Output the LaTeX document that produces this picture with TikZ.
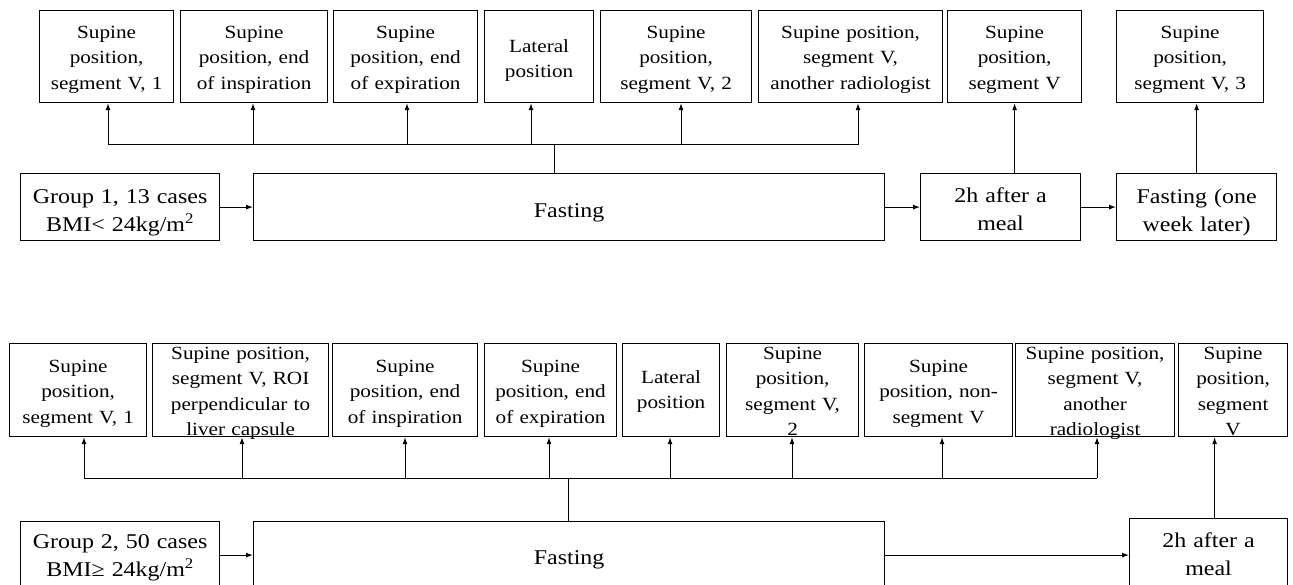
\documentclass[tikz,border=0pt]{standalone}
\usepackage{fontspec}
\setmainfont{Liberation Serif}[FakeStretch=1.14]
\usetikzlibrary{arrows.meta}

\tikzset{
  stagebox/.style={draw, line width=1.2pt, anchor=north west, align=center,
    inner sep=1pt, font=\fontsize{18.6}{25.3}\selectfont},
  mainbox/.style={stagebox, font=\fontsize{21}{27.5}\selectfont},
  % first baseline and box height through text height / text depth
  top2/.style={text height=41pt, text depth=49pt},
  top3/.style={text height=27pt, text depth=63pt},
  low2/.style={text height=39pt, text depth=52pt},
  low3/.style={text height=28pt, text depth=63pt},
  low4/.style={text height=15pt, text depth=76pt},
  mid1/.style={text height=43pt, text depth=22pt},
  mid2/.style={text height=29pt, text depth=36pt},
  arr/.style={line width=1pt, -{Latex[length=7pt,width=5pt]}},
  wire/.style={line width=1pt},
}

\begin{document}
\begin{tikzpicture}[x=1pt, y=-1pt]
  \useasboundingbox (0,0) rectangle (1293,585);

  % group 1
  \node[stagebox, top3, text width=132pt] (t1) at (39,10) {Supine\\position,\\segment V, 1};
  \node[stagebox, top3, text width=145pt] (t2) at (180,10) {Supine\\position, end\\of inspiration};
  \node[stagebox, top3, text width=142pt] (t3) at (333,10) {Supine\\position, end\\of expiration};
  \node[stagebox, top2, text width=107pt] (t4) at (484,10) {Lateral\\position};
  \node[stagebox, top3, text width=149pt] (t5) at (600,10) {Supine\\position,\\segment V, 2};
  \node[stagebox, top3, text width=182pt] (t6) at (758,10) {Supine position,\\segment V,\\another radiologist};
  \node[stagebox, top3, text width=132pt] (t7) at (947,10) {Supine\\position,\\segment V};
  \node[stagebox, top3, text width=145pt] (t8) at (1116,10) {Supine\\position,\\segment V, 3};

  \node[mainbox, mid2, text width=197pt] (g1) at (20,173) {Group 1, 13 cases\\BMI< 24kg/m\textsuperscript{2}};
  \node[mainbox, mid1, text width=629pt] (f1) at (253,173) {Fasting};
  \node[mainbox, mid2, text width=158pt, text height=28pt, text depth=37pt] (m1) at (920,173) {2h after a\\meal};
  \node[mainbox, mid2, text width=158pt] (w1) at (1116,173) {Fasting (one\\week later)};

  \draw[arr] (g1) -- (f1);
  \draw[arr] (f1) -- (m1);
  \draw[arr] (m1) -- (w1);
  \draw[arr] (t7.south |- m1.north) -- (t7.south);
  \draw[arr] (w1.north) -- (w1.north |- t8.south);

  \foreach \n/\x in {t1/108, t2/253, t3/407, t4/531, t5/681, t6/858} {
    \coordinate (j\n) at (\x,145);
    \draw[arr] (j\n) -- (j\n |- \n.south);
  }
  \draw[wire] (jt1) -- (jt6);
  \coordinate (s1) at (554,145);
  \draw[wire] (s1) -- (s1 |- f1.north);

  % group 2
  \node[stagebox, low3, text width=135pt] (b1) at (9,343) {Supine\\position,\\segment V, 1};
  \node[stagebox, low4, text width=174pt] (b2) at (152,343) {Supine position,\\segment V, ROI\\perpendicular to\\liver capsule};
  \node[stagebox, low3, text width=143pt] (b3) at (332,343) {Supine\\position, end\\of inspiration};
  \node[stagebox, low3, text width=130pt] (b4) at (484,343) {Supine\\position, end\\of expiration};
  \node[stagebox, low2, text width=95pt] (b5) at (622,343) {Lateral\\position};
  \node[stagebox, low4, text width=130pt] (b6) at (726,343) {Supine\\position,\\segment V,\\2};
  \node[stagebox, low3, text width=146pt] (b7) at (864,343) {Supine\\position, non-\\segment V};
  \node[stagebox, low4, text width=157pt] (b8) at (1015,343) {Supine position,\\segment V,\\another\\radiologist};
  \node[stagebox, low4, text width=107pt] (b9) at (1178,343) {Supine\\position,\\segment\\V};

  \node[mainbox, text width=197pt, text height=26pt, text depth=39pt] (g2) at (20,521) {Group 2, 50 cases\\BMI≥ 24kg/m\textsuperscript{2}};
  \node[mainbox, text width=629pt, text height=42pt, text depth=23pt] (f2) at (253,521) {Fasting};
  \node[mainbox, text width=156pt, text height=28pt, text depth=40pt] (m2) at (1129,518) {2h after a\\meal};

  \draw[arr] (g2.east |- f2.west) -- (f2.west);
  \draw[arr] (f2.east) -- (f2.east -| m2.west);
  \coordinate (k2) at ([xshift=6pt]m2.north);
  \draw[arr] (k2) -- (k2 |- b9.south);

  \foreach \n/\x in {b1/84, b2/242, b3/405, b4/549, b5/670, b6/792, b7/942, b8/1097} {
    \coordinate (j\n) at (\x,478);
    \draw[arr] (j\n) -- (j\n |- \n.south);
  }
  \draw[wire] (jb1) -- (jb8);
  \coordinate (s2) at (568,478);
  \draw[wire] (s2) -- (s2 |- f2.north);
\end{tikzpicture}
\end{document}
